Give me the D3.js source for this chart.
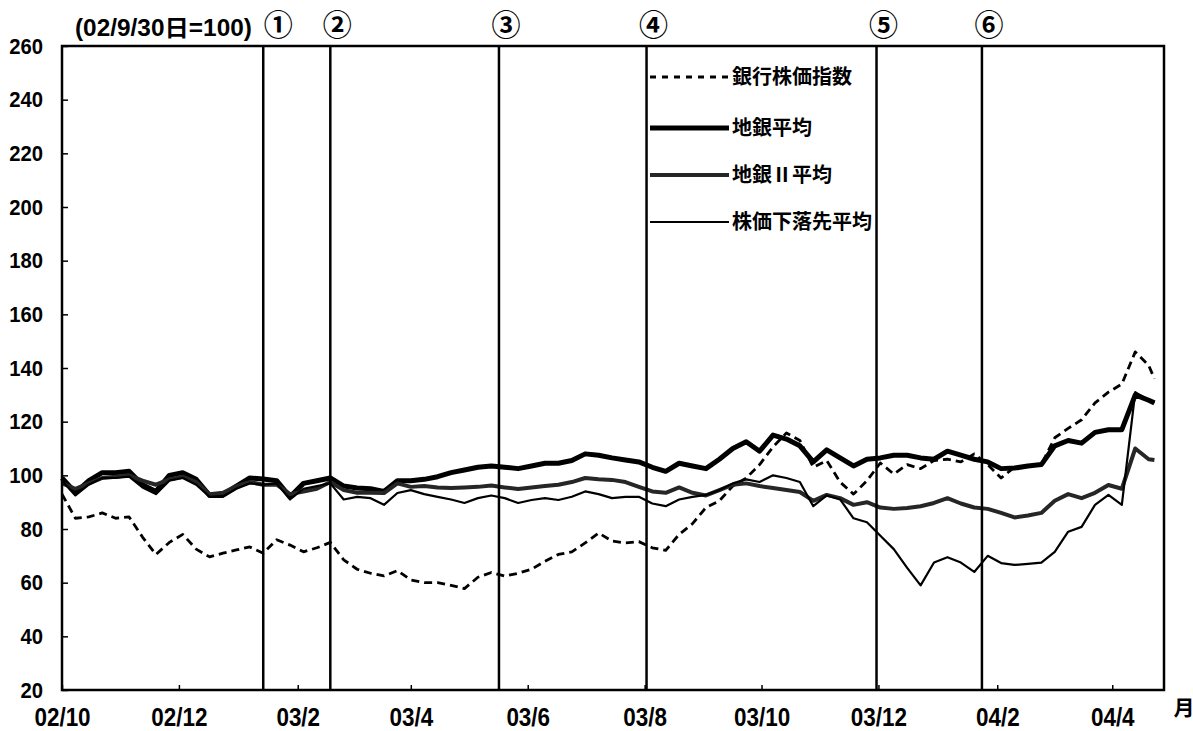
<!DOCTYPE html>
<html>
<head>
<meta charset="utf-8">
<script src="https://cdn.jsdelivr.net/npm/d3@7"></script>
<style>
html,body{margin:0;padding:0;background:#fff;}
svg{display:block;}
.num{font-family:"Liberation Sans",Arial,"Noto Sans CJK JP",sans-serif;font-weight:bold;}
.jp{font-family:"Noto Sans CJK JP","Noto Sans",sans-serif;font-weight:bold;}
</style>
</head>
<body>
<svg id="chart" width="1193" height="731"></svg>
<script>
// ---- data (index, 2002/9/30 = 100) ----
const dates = [
"2002-10-01","2002-10-08","2002-10-15","2002-10-22","2002-10-29","2002-11-05","2002-11-12","2002-11-19","2002-11-26",
"2002-12-03","2002-12-10","2002-12-17","2002-12-24","2002-12-31","2003-01-07","2003-01-14","2003-01-21","2003-01-28",
"2003-02-04","2003-02-11","2003-02-18","2003-02-25","2003-03-04","2003-03-11","2003-03-18","2003-03-25","2003-04-01",
"2003-04-08","2003-04-15","2003-04-22","2003-04-29","2003-05-06","2003-05-13","2003-05-20","2003-05-27","2003-06-03",
"2003-06-10","2003-06-17","2003-06-24","2003-07-01","2003-07-08","2003-07-15","2003-07-22","2003-07-29","2003-08-05",
"2003-08-12","2003-08-19","2003-08-26","2003-09-02","2003-09-09","2003-09-16","2003-09-23","2003-09-30","2003-10-07",
"2003-10-14","2003-10-21","2003-10-28","2003-11-04","2003-11-11","2003-11-18","2003-11-25","2003-12-02","2003-12-09",
"2003-12-16","2003-12-23","2003-12-30","2004-01-06","2004-01-13","2004-01-20","2004-01-27","2004-02-03","2004-02-10",
"2004-02-17","2004-02-24","2004-03-02","2004-03-09","2004-03-16","2004-03-23","2004-03-30","2004-04-06","2004-04-13",
"2004-04-20","2004-04-23"];

const bankIndex = [ // 銀行株価指数
93,84,84.5,86,84,84.5,77,70.5,75,
78,72.5,69.6,71,72.2,73.3,71,76,74,
71.5,73,75,68.5,65,63.5,62.5,64.5,61,
60,60,59,57.8,62,63.8,62.5,63.5,65,
68,70.5,71.5,74.8,78.5,75.5,74.8,75.3,73,
72,78,82,88,90.5,96,99,104,110.6,
115.8,113,103,105.5,97.5,93,98,104.6,100.5,
104,102.5,105.5,106,105,108,104,99,103,
103.5,104,114,117.5,120.7,127,131,134,146,
141,136];

const chiginAvg = [ // 地銀平均
99,93.5,98,101,101,101.5,96.5,94,100,
101,98.5,92.5,92.7,96,99,98.6,98,92,
97,98,99,96,95.3,95,94,98,98,
98.5,99.5,101,102,103,103.5,103,102.5,103.5,
104.5,104.5,105.5,108,107.5,106.5,105.7,105,103,
101.5,104.5,103.5,102.5,106,110,112.5,109,115,
113.5,111,105,109.5,106.5,103.5,106,106.5,107.5,
107.5,106.5,106,109,107.5,106,105,102.5,102.7,
103.5,104,111,113,112,116,117,117,130,
128,127];

const chigin2Avg = [ // 地銀Ⅱ平均
97,95,97,99,99.5,100,98,96.5,98.5,
99.5,97.5,93,93.5,96,97.5,96.5,96.5,93,
94,95,97.5,94.5,93.5,93.5,93.4,97,95.7,
96,95.5,95.3,95.5,95.7,96.2,95.5,94.9,95.5,
96,96.5,97.5,99,98.5,98.3,97.5,95.7,94,
93.5,95.5,93.5,92.5,94.5,96.5,97,96,95.3,
94.5,93.8,90.5,92.7,91.5,89,90,88,87.5,
87.8,88.5,89.7,91.5,89.5,88,87.5,86,84.3,
85,86,90.5,93,91.5,93.5,96.4,95,110,
106,105.7];

const declineAvg = [ // 株価下落先平均
98,92.5,96.5,99,99,99.5,95.5,93,98,
99,96.5,92,92,95,97,96.5,97,91,
95,96,97,91,92,91.5,89,93.4,94.5,
93,92,91,89.7,91.5,92.5,91.5,89.7,90.8,
91.5,90.8,92,94,93,91.5,92,92,89.5,
88.5,91,92,92.7,94.5,97,98.5,97.5,100,
99,97.5,88.5,92.5,91,84,82.5,77.5,72.5,
65.5,59,67.5,69.5,67.5,64,70,67.3,66.6,
67,67.5,71.5,79,80.8,89,92.7,89,131,
128,127];

const seriesNames = ["銀行株価指数","地銀平均","地銀Ⅱ平均","株価下落先平均"];
const yTicks = [20,40,60,80,100,120,140,160,180,200,220,240,260];
const xTickDates = ["2002-10-01","2002-12-01","2003-02-01","2003-04-01","2003-06-01","2003-08-01","2003-10-01","2003-12-01","2004-02-01","2004-04-01"];
const xTickLabels = ["02/10","02/12","03/2","03/4","03/6","03/8","03/10","03/12","04/2","04/4"];
const eventDates = ["2003-01-14","2003-02-18","2003-05-17","2003-08-02","2003-11-30","2004-01-24"];
const eventLabels = ["①","②","③","④","⑤","⑥"];
const baseLabel = "(02/9/30日=100)";
const unitLabel = "月";

// ---- drawing ----
const parse = d3.utcParse("%Y-%m-%d");
const svg = d3.select("#chart");
const L = 62, R = 1164, T = 46, B = 690;

const x = d3.scaleUtc().domain([parse("2002-10-01"), parse("2004-04-28")]).range([L, R]);
const y = d3.scaleLinear().domain([20, 260]).range([B, T]);

function narrow(sel, f) {
  sel.each(function(){
    const w = this.getComputedTextLength();
    d3.select(this).attr("textLength", w * f).attr("lengthAdjust", "spacingAndGlyphs");
  });
}

const styles = [
  {w:2.8, dash:"8,5", color:"#000"},
  {w:5, dash:null, color:"#000"},
  {w:4, dash:null, color:"#262626"},
  {w:2.2, dash:null, color:"#000"}
];
const seriesVals = [bankIndex, chiginAvg, chigin2Avg, declineAvg];

// axes
const yAxis = d3.axisLeft(y).tickValues(yTicks).tickSizeInner(-6).tickSizeOuter(0).tickPadding(19);
const gy = svg.append("g").attr("transform", `translate(${L},0)`).call(yAxis);
gy.select(".domain").remove();
gy.selectAll("line").attr("stroke","#000").attr("stroke-width",1.5);
gy.selectAll("text").attr("class","num").attr("font-size",22).attr("fill","#000").attr("dy","0.33em");
narrow(gy.selectAll("text"), 0.92);

const xAxis = d3.axisBottom(x).tickValues(xTickDates.map(parse))
  .tickFormat((d,i)=>xTickLabels[i]).tickSizeInner(-5).tickSizeOuter(0).tickPadding(0);
const gx = svg.append("g").attr("transform", `translate(0,${B})`).call(xAxis);
gx.select(".domain").remove();
gx.selectAll("line").attr("stroke","#000").attr("stroke-width",1.5);
gx.selectAll("text").attr("class","num").attr("font-size",25.5).attr("fill","#000")
  .attr("y", 35.5).attr("dy", 0);
narrow(gx.selectAll("text"), 0.88);

// series
const line = d3.line().x(d=>x(d[0])).y(d=>y(d[1])).curve(d3.curveLinear);
seriesVals.forEach((vals,i)=>{
  const pts = dates.map((d,j)=>[parse(d), vals[j]]);
  const p = svg.append("path").datum(pts).attr("d", line)
    .attr("fill","none").attr("stroke", styles[i].color)
    .attr("stroke-width", styles[i].w).attr("stroke-linejoin","round");
  if (styles[i].dash) p.attr("stroke-dasharray", styles[i].dash);
});

// event lines
eventDates.forEach((d,i)=>{
  const ex = x(parse(d));
  svg.append("line").attr("x1",ex).attr("x2",ex).attr("y1",T).attr("y2",B)
    .attr("stroke","#000").attr("stroke-width",2.5);
  svg.append("text").attr("class","jp").attr("x", ex + (i===0?15:7)).attr("y",36)
    .attr("text-anchor","middle").attr("font-size",29).attr("font-weight","normal").text(eventLabels[i]);
});

// frame
svg.append("rect").attr("x",L).attr("y",T).attr("width",R-L).attr("height",B-T)
  .attr("fill","none").attr("stroke","#000").attr("stroke-width",2.5);

// header / unit
const hdr = svg.append("text").attr("class","num").attr("x",75).attr("y",36).attr("font-size",23).text(baseLabel);
narrow(hdr, 1.06);
svg.append("text").attr("class","jp").attr("x",1184).attr("y",715).attr("text-anchor","middle").attr("font-size",21).text(unitLabel);

// legend
const legY = [77,128,175,222];
seriesNames.forEach((n,i)=>{
  const l = svg.append("line").attr("x1",650).attr("x2",729).attr("y1",legY[i]).attr("y2",legY[i])
    .attr("stroke",styles[i].color).attr("stroke-width",styles[i].w);
  if (styles[i].dash) l.attr("stroke-dasharray","6,6");
  svg.append("text").attr("class","jp").attr("x",732).attr("y",legY[i]).attr("dy","0.36em")
    .attr("font-size",20).text(n);
});
</script>
</body>
</html>
